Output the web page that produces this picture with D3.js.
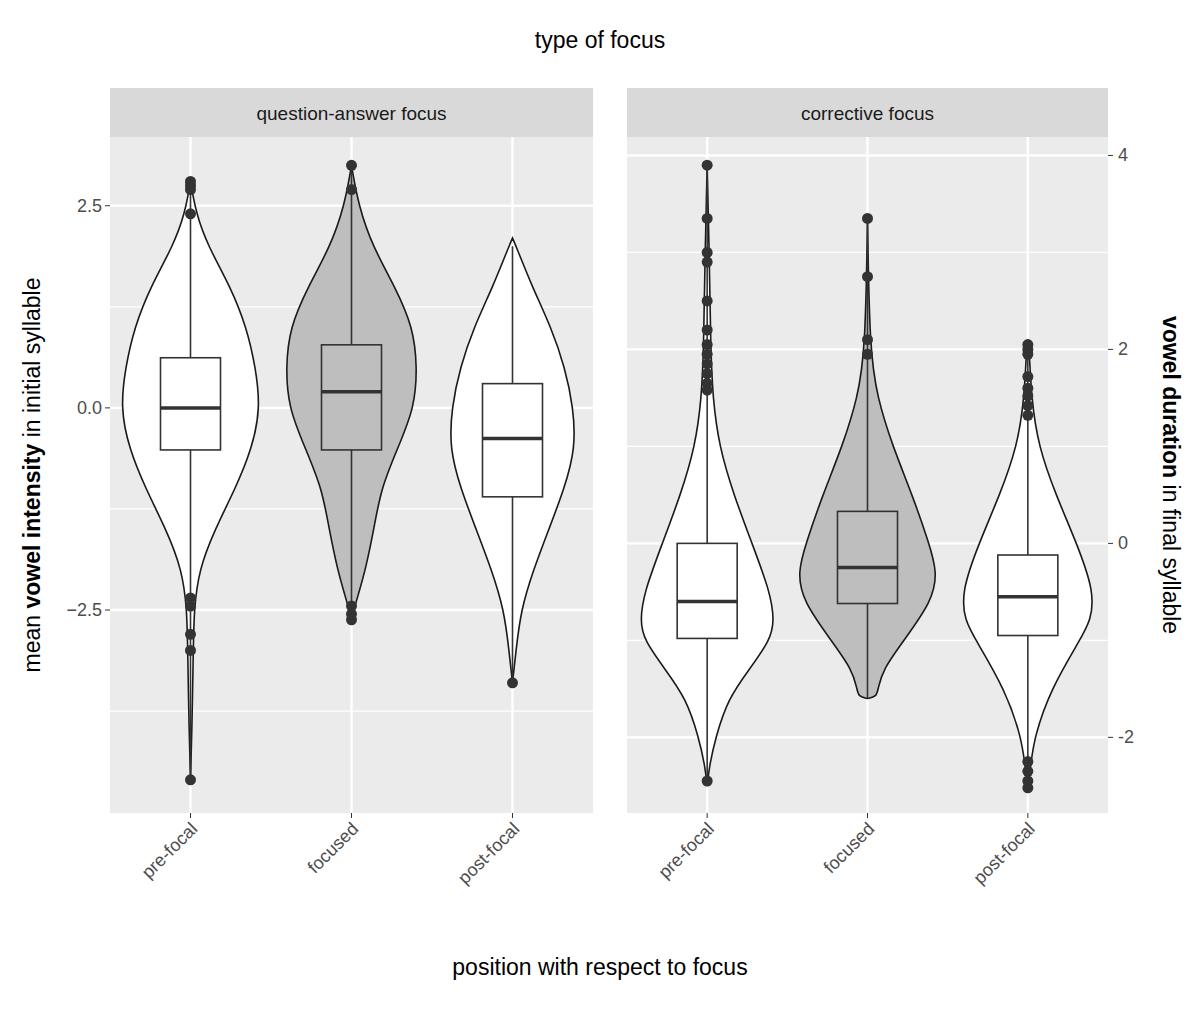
<!DOCTYPE html><html><head><meta charset="utf-8">
<script src="https://cdn.jsdelivr.net/npm/d3@7"></script>
<style>body{margin:0;background:#fff}text{font-family:Helvetica,"Liberation Sans",Arial,sans-serif}</style>
</head><body><svg id="c" width="1200" height="1031"></svg>
<script>
const categories=["pre-focal","focused","post-focal"];
const panels=["question-answer focus","corrective focus"];
const fills=["#ffffff","#bebebe","#ffffff"];
// violin density profiles: [value, relative width 0-1]
const leftViolins=[
 [[-4.6,0],[-4,0.02],[-3,0.04],[-2.5,0.05],[-2,0.12],[-1.5,0.35],[-1,0.64],[-0.5,0.88],[0,1],[0.5,0.93],[1,0.8],[1.5,0.57],[2,0.25],[2.4,0.08],[2.8,0]],
 [[-2.6,0],[-2.3,0.1],[-2,0.2],[-1.5,0.32],[-1,0.42],[-0.5,0.66],[0,0.9],[0.5,0.94],[1,0.88],[1.5,0.62],[2,0.3],[2.5,0.1],[3,0]],
 [[-3.4,0],[-3,0.05],[-2.5,0.12],[-2,0.3],[-1.5,0.52],[-1,0.74],[-0.5,0.9],[0,0.87],[0.5,0.75],[1,0.55],[1.5,0.28],[2,0.05],[2.1,0]]
];
const rightViolins=[
 [[-2.5,0],[-2.3,0.03],[-2,0.12],[-1.6,0.3],[-1.3,0.6],[-1,0.9],[-0.8,0.96],[-0.5,0.9],[0,0.64],[0.5,0.38],[1,0.17],[1.5,0.08],[2,0.05],[3,0.03],[3.9,0]],
 [[-1.6,0],[-1.58,0.13],[-1.5,0.15],[-1.3,0.22],[-1,0.52],[-0.6,0.92],[-0.3,1],[0,0.88],[0.5,0.64],[1,0.36],[1.5,0.14],[2,0.03],[3.35,0]],
 [[-2.5,0],[-2.3,0.04],[-2,0.09],[-1.5,0.33],[-1,0.74],[-0.8,0.9],[-0.5,0.95],[0,0.7],[0.5,0.4],[1,0.15],[1.5,0.05],[2,0.02],[2.1,0]]
];
// boxes: [lowerWhisker, q1, median, q3, upperWhisker]
const leftBoxes=[[-2.2,-0.52,0.0,0.62,2.35],[-2.4,-0.52,0.2,0.78,2.5],[-3.0,-1.1,-0.38,0.3,2.0]];
const rightBoxes=[[-2.0,-0.98,-0.6,0.0,1.5],[-1.6,-0.62,-0.25,0.33,1.9],[-2.2,-0.95,-0.55,-0.12,1.2]];
const leftOutliers=[[2.8,2.75,2.7,2.4,-2.35,-2.45,-2.8,-3.0,-4.6],[3.0,2.7,-2.45,-2.55,-2.62],[-3.4]];
const rightOutliers=[[3.9,3.35,3.0,2.9,2.5,2.2,2.05,1.95,1.85,1.75,1.65,1.58,-2.45],[3.35,2.75,2.1,1.95],[2.05,2.0,1.95,1.72,1.6,1.52,1.42,1.32,-2.25,-2.35,-2.45,-2.52]];
const leftTicks=[-2.5,0,2.5], rightTicks=[-2,0,2,4];

const svg=d3.select("#c");
const pTop=137,pBot=813;
const yL=d3.scaleLinear().domain([-5.01,3.35]).range([pBot,pTop]);
const yR=d3.scaleLinear().domain([-2.78,4.19]).range([pBot,pTop]);
const pX=[[110,593],[627,1108]];
const wS=d3.scaleLinear().domain([0,1]).range([0,70]);
const cfg=[{y:yL,v:leftViolins,b:leftBoxes,o:leftOutliers,t:leftTicks,minor:[-3.75,-1.25,1.25]},
           {y:yR,v:rightViolins,b:rightBoxes,o:rightOutliers,t:rightTicks,minor:[-1,1,3]}];
cfg.forEach((c,pi)=>{
 const [x0,x1]=pX[pi];
 const x=d3.scalePoint().domain(categories).range([x0,x1]).padding(0.5);
 svg.append("rect").attr("x",x0).attr("y",88).attr("width",x1-x0).attr("height",49).attr("fill","#d9d9d9");
 svg.append("text").attr("x",(x0+x1)/2).attr("y",120).attr("text-anchor","middle").attr("font-size",19).attr("fill","#1a1a1a").text(panels[pi]);
 svg.append("rect").attr("x",x0).attr("y",pTop).attr("width",x1-x0).attr("height",pBot-pTop).attr("fill","#ebebeb");
 c.minor.forEach(v=>svg.append("line").attr("x1",x0).attr("x2",x1).attr("y1",c.y(v)).attr("y2",c.y(v)).attr("stroke","#fff").attr("stroke-width",1.2));
 c.t.forEach(v=>svg.append("line").attr("x1",x0).attr("x2",x1).attr("y1",c.y(v)).attr("y2",c.y(v)).attr("stroke","#fff").attr("stroke-width",2.4));
 categories.forEach(k=>svg.append("line").attr("x1",x(k)).attr("x2",x(k)).attr("y1",pTop).attr("y2",pBot).attr("stroke","#fff").attr("stroke-width",2.4));
 categories.forEach((k,i)=>{
  const cx=x(k), d=c.v[i];
  const area=d3.area().curve(d3.curveBasis).y(p=>c.y(p[0])).x0(p=>cx-wS(p[1])).x1(p=>cx+wS(p[1]));
  svg.append("path").attr("d",area(d)).attr("fill",fills[i]).attr("stroke","#1a1a1a").attr("stroke-width",1.6);
  const b=c.b[i];
  const o=c.o[i];
  const mn=d3.min(o.concat([b[0]])), mx=d3.max(o.concat([b[4]]));
  svg.append("line").attr("x1",cx).attr("x2",cx).attr("y1",c.y(mn)).attr("y2",c.y(mx)).attr("stroke","#333").attr("stroke-width",1.6);
  svg.append("rect").attr("x",cx-30).attr("width",60).attr("y",c.y(b[3])).attr("height",c.y(b[1])-c.y(b[3])).attr("fill",fills[i]).attr("stroke","#333").attr("stroke-width",1.6);
  svg.append("line").attr("x1",cx-30).attr("x2",cx+30).attr("y1",c.y(b[2])).attr("y2",c.y(b[2])).attr("stroke","#333").attr("stroke-width",3.5);
  o.forEach(v=>svg.append("circle").attr("cx",cx).attr("cy",c.y(v)).attr("r",5.5).attr("fill","#333"));
  svg.append("text").attr("transform",`translate(${cx+8},${830}) rotate(-45)`).attr("text-anchor","end").attr("font-size",18).attr("fill","#4d4d4d").text(k);
  svg.append("line").attr("x1",cx).attr("x2",cx).attr("y1",pBot).attr("y2",pBot+5).attr("stroke","#333");
 });
 if(pi===0){
  c.t.forEach(v=>{svg.append("line").attr("x1",x0-5).attr("x2",x0).attr("y1",c.y(v)).attr("y2",c.y(v)).attr("stroke","#333");
   svg.append("text").attr("x",x0-8).attr("y",c.y(v)+6).attr("text-anchor","end").attr("font-size",18).attr("fill","#4d4d4d").text(d3.format(".1f")(v));});
 } else {
  c.t.forEach(v=>{svg.append("line").attr("x1",x1).attr("x2",x1+5).attr("y1",c.y(v)).attr("y2",c.y(v)).attr("stroke","#333");
   svg.append("text").attr("x",x1+10).attr("y",c.y(v)+6).attr("font-size",18).attr("fill","#4d4d4d").text(v<0?"-"+Math.abs(v):v);});
 }
});
svg.append("text").attr("x",600).attr("y",48).attr("text-anchor","middle").attr("font-size",23).text("type of focus");
svg.append("text").attr("x",600).attr("y",975).attr("text-anchor","middle").attr("font-size",23).text("position with respect to focus");
const tl=svg.append("text").attr("transform","translate(40,475) rotate(-90)").attr("text-anchor","middle").attr("font-size",23);
tl.append("tspan").text("mean ");tl.append("tspan").attr("font-weight","bold").text("vowel intensity");tl.append("tspan").text(" in initial syllable");
const tr=svg.append("text").attr("transform","translate(1163,475) rotate(90)").attr("text-anchor","middle").attr("font-size",23);
tr.append("tspan").attr("font-weight","bold").text("vowel duration");tr.append("tspan").text(" in final syllable");
</script></body></html>
